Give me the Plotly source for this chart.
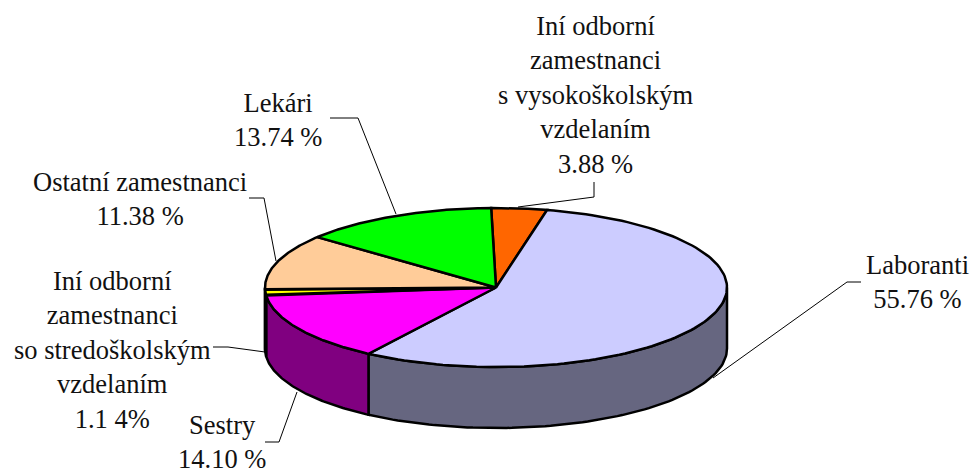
import numpy as np
import plotly.graph_objects as go

names = ["Iní odborní<br>zamestnanci<br>s vysokoškolským<br>vzdelaním",
         "Laboranti", "Sestry",
         "Iní odborní<br>zamestnanci<br>so stredoškolským<br>vzdelaním",
         "Ostatní zamestnanci", "Lekári"]
shares = [3.88, 55.76, 14.10, 1.14, 11.38, 13.74]
value_text = ["3.88 %", "55.76 %", "14.10 %", "1.1 4%", "11.38 %", "13.74 %"]
top_colors = ["#FF6600", "#CCCCFF", "#FF00FF", "#FFFF00", "#FFCC99", "#00FF00"]
side_colors = ["#803300", "#666680", "#800080", "#808000", "#80664D", "#008000"]

CX, CY, RX, RY, DEPTH = 496, 287.5, 231, 79.5, 61
START_DEG = -1.2
label_pos = [(595, 95), (917, 282), (222, 442), (112, 350), (140, 199), (278, 120)]
leaders = [[(594, 182), (594, 197), (518, 207)],
           [(861, 282), (847, 282), (713, 378)],
           [(265, 442), (279, 442), (297, 392)],
           [(213, 347), (228, 347), (265, 352)],
           [(249, 198), (264, 198), (276, 261)],
           [(330, 118), (358, 118), (396, 214)]]


def rim(a_deg, dy=0.0):
    a = np.radians(a_deg)
    return CX + RX * np.sin(a), CY - RY * np.cos(a) + dy


fig = go.Figure()
edges = START_DEG + np.concatenate([[0], np.cumsum(shares)]) * 3.6

# side walls (front half only)
for i in range(len(shares)):
    a0, a1 = max(edges[i], 90), min(edges[i + 1], 270)
    if a1 <= a0:
        continue
    t = np.linspace(a0, a1, 90)
    xt, yt = rim(t)
    xb, yb = rim(t[::-1], DEPTH)
    fig.add_trace(go.Scatter(x=np.r_[xt, xb, xt[0]], y=np.r_[yt, yb, yt[0]], mode="lines",
                             fill="toself", fillcolor=side_colors[i],
                             line=dict(color="black", width=2.5), hoverinfo="skip"))

# top face
for i in range(len(shares)):
    t = np.linspace(edges[i], edges[i + 1], 120)
    xt, yt = rim(t)
    fig.add_trace(go.Scatter(x=np.r_[CX, xt, CX], y=np.r_[CY, yt, CY], mode="lines",
                             fill="toself", fillcolor=top_colors[i],
                             line=dict(color="black", width=2.5),
                             name=names[i].replace("<br>", " "),
                             text=f"{shares[i]:.2f} %", hoverinfo="name+text"))

# leader lines
for pts in leaders:
    xs, ys = zip(*pts)
    fig.add_trace(go.Scatter(x=xs, y=ys, mode="lines", line=dict(color="black", width=1),
                             hoverinfo="skip"))

for i, (x, y) in enumerate(label_pos):
    fig.add_annotation(x=x, y=y, xref="x", yref="y", text=f"{names[i]}<br>{value_text[i]}",
                       showarrow=False, align="center", xanchor="center", yanchor="middle",
                       font=dict(family="Liberation Serif", size=26.5, color="#111111"))

fig.update_layout(width=972, height=470, margin=dict(l=0, r=0, t=0, b=0),
                  paper_bgcolor="white", plot_bgcolor="white", showlegend=False,
                  xaxis=dict(range=[0, 972], visible=False, fixedrange=True),
                  yaxis=dict(range=[470, 0], visible=False, fixedrange=True))
fig.write_html("out.html", config=dict(displayModeBar=False),
               post_script="document.body.style.margin='0';document.body.style.overflow='hidden';")
